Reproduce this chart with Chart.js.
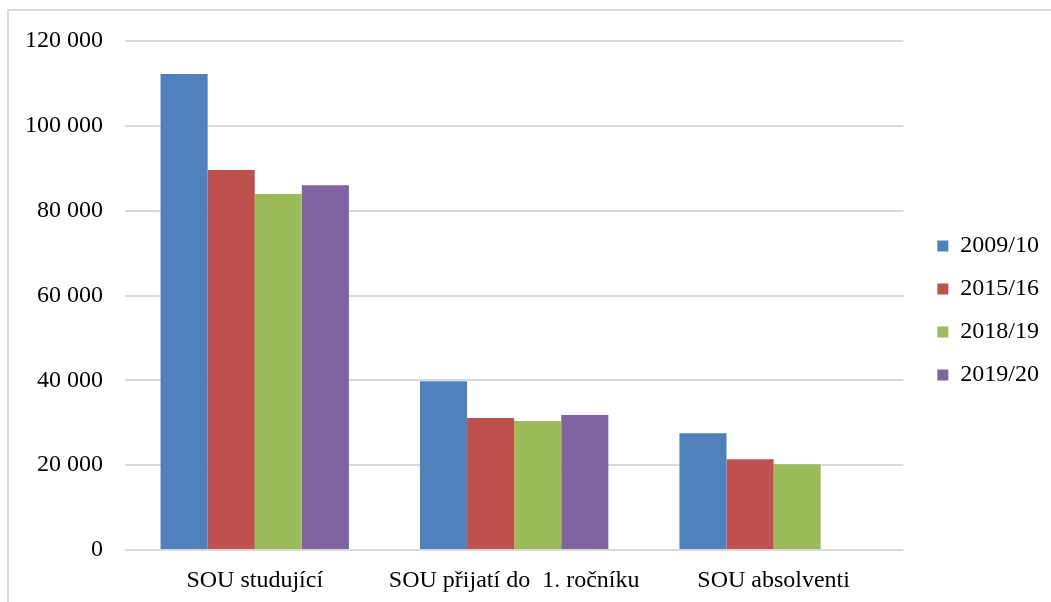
<!DOCTYPE html>
<html lang="cs">
<head>
<meta charset="utf-8">
<title>SOU</title>
<script src="https://cdn.jsdelivr.net/npm/chart.js@4/dist/chart.umd.min.js"></script>
<style>
  body { margin: 0; background: #fff; }
  #obal { position: relative; width: 1051px; height: 602px; overflow: hidden; }
  #ramecek {
    position: absolute; left: 7px; top: 9px; right: -4px; bottom: -4px;
    border: 2px solid #d9d9d9; pointer-events: none;
  }
</style>
</head>
<body>
<div id="obal">
  <canvas id="graf" width="1051" height="602"></canvas>
  <div id="ramecek"></div>
</div>
<script>
const kategorie = ["SOU studující", "SOU přijatí do  1. ročníku", "SOU absolventi"];
const roky = ["2009/10", "2015/16", "2018/19", "2019/20"];

const hodnoty2009 = [112200, 39800, 27500];
const hodnoty2015 = [89600, 31100, 21400];
const hodnoty2018 = [83900, 30400, 20200];
const hodnoty2019 = [86000, 31800, null];

const barvy = ["#4f81bd", "#c0504d", "#9bbb59", "#8064a2"];
const pismo = "'Liberation Serif', 'Times New Roman', serif";

function formatujCislo(hodnota) {
  return String(hodnota).replace(/\B(?=(\d{3})+(?!\d))/g, " ");
}

// legenda je v originale odsazena dal od grafu a o kus vys
const posunLegendy = {
  id: "posunLegendy",
  afterLayout(chart) {
    chart.legend.left += 15;
    chart.legend.right += 15;
    chart.legend.top -= 11;
    chart.legend.bottom -= 11;
  },
};

const ctx = document.getElementById("graf").getContext("2d");

new Chart(ctx, {
  type: "bar",
  data: {
    labels: kategorie,
    datasets: [hodnoty2009, hodnoty2015, hodnoty2018, hodnoty2019].map((data, i) => ({
      label: roky[i],
      data: data,
      backgroundColor: barvy[i],
      borderWidth: 0,
      categoryPercentage: 0.726,
      barPercentage: 1.0,
    })),
  },
  options: {
    responsive: false,
    animation: false,
    layout: {
      padding: { left: 26, top: 41, right: 17, bottom: 0 },
    },
    plugins: {
      tooltip: { enabled: false },
      legend: {
        position: "right",
        labels: {
          boxWidth: 11,
          boxHeight: 11,
          padding: 19,
          color: "#000",
          font: { family: pismo, size: 24 },
        },
      },
    },
    scales: {
      x: {
        afterFit: (scale) => {
          scale.height = 52;
        },
        grid: { display: false, drawTicks: false },
        border: { display: false },
        ticks: {
          color: "#000",
          padding: 16,
          maxRotation: 0,
          font: { family: pismo, size: 24 },
        },
      },
      y: {
        min: 0,
        max: 120000,
        afterFit: (scale) => {
          scale.width = 99;
        },
        grid: { color: "#d9d9d9", lineWidth: 2, drawTicks: false },
        border: { display: false },
        ticks: {
          stepSize: 20000,
          padding: 22,
          color: "#000",
          font: { family: pismo, size: 24 },
          callback: (hodnota) => formatujCislo(hodnota),
        },
      },
    },
  },
  plugins: [posunLegendy],
});
</script>
</body>
</html>
